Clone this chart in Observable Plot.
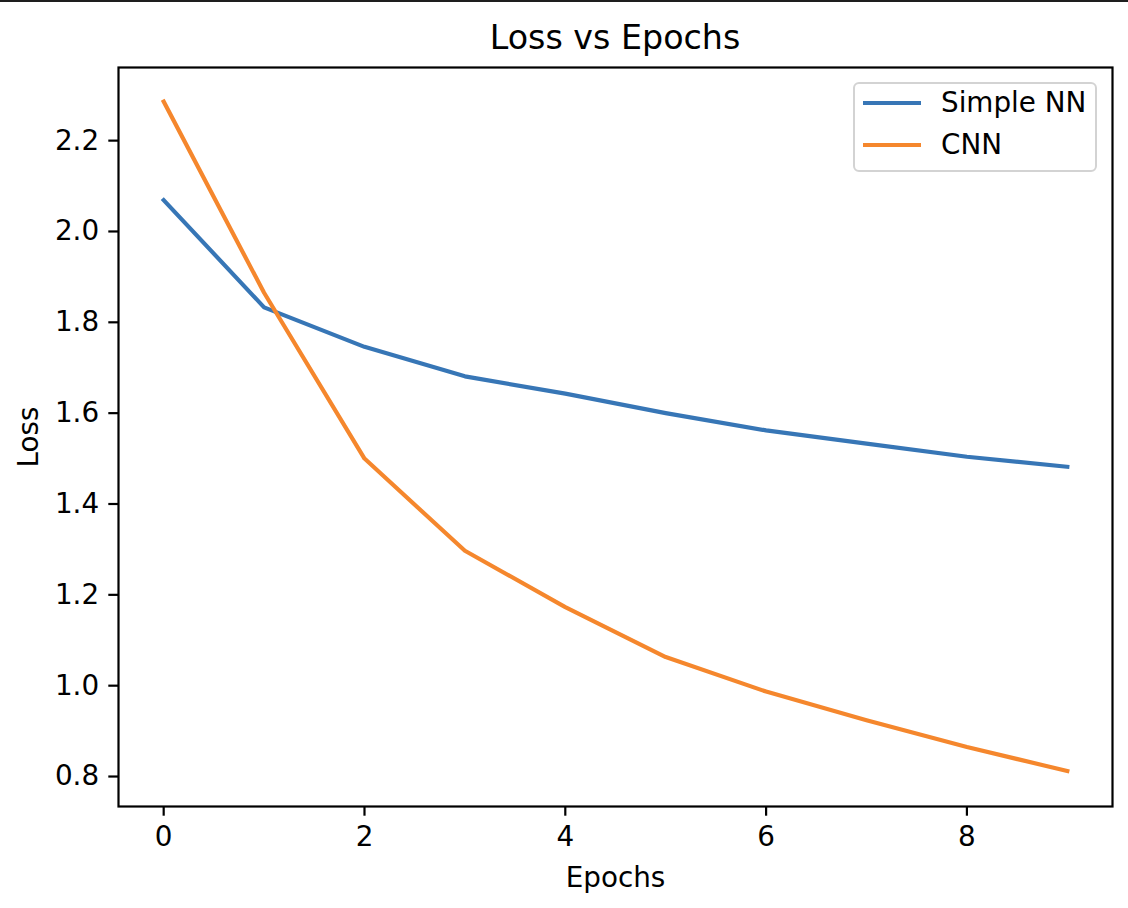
<!DOCTYPE html>
<html>
<head>
<meta charset="utf-8">
<script src="https://cdn.jsdelivr.net/npm/d3@7"></script>
<script src="https://cdn.jsdelivr.net/npm/@observablehq/plot@0.6"></script>
<style>
  html, body { margin: 0; padding: 0; background: #fff; }
  #wrap { position: relative; width: 1128px; height: 908px; overflow: hidden; background: #fff; font-family: "DejaVu Sans", sans-serif; }
  #topbar { position: absolute; left: 0; top: 0; width: 1128px; height: 2px; background: #1e1e1e; }
  #title { position: absolute; left: 0; width: 1230px; top: 18px; text-align: center; font-size: 33.3px; color: #000; line-height: 40px; }
  #chart { position: absolute; left: 0; top: 60px; }
  #legend { position: absolute; left: 853px; top: 82px; width: 240px; height: 86px; border: 2px solid #d3d3d3; border-radius: 6px; background: rgba(255,255,255,0.8); box-sizing: content-box; }
  .item { position: absolute; left: 8px; display: flex; align-items: center; font-size: 27.8px; color: #000; white-space: nowrap; }
  .sw { width: 58px; height: 4px; margin-right: 20px; }
</style>
</head>
<body>
<div id="wrap">
  <div id="topbar"></div>
  <div id="title">Loss vs Epochs</div>
  <div id="chart"></div>
  <div id="legend"></div>
</div>
<script>
const epochs = [0, 1, 2, 3, 4, 5, 6, 7, 8, 9];
const simpleNN = [2.069, 1.833, 1.746, 1.681, 1.643, 1.600, 1.562, 1.533, 1.504, 1.482];
const cnn = [2.286, 1.865, 1.500, 1.297, 1.173, 1.063, 0.987, 0.924, 0.865, 0.812];
const seriesNames = ["Simple NN", "CNN"];
const seriesColors = ["#3776b6", "#f5872d"];
const xTicks = [0, 2, 4, 6, 8];
const yTicks = [0.8, 1.0, 1.2, 1.4, 1.6, 1.8, 2.0, 2.2];

const data = [
  ...epochs.map((e, i) => ({epoch: e, loss: simpleNN[i], series: seriesNames[0]})),
  ...epochs.map((e, i) => ({epoch: e, loss: cnn[i], series: seriesNames[1]}))
];

const chart = Plot.plot({
  width: 1128,
  height: 848,
  marginTop: 7,
  marginBottom: 102,
  marginLeft: 118,
  marginRight: 16,
  style: {fontFamily: "DejaVu Sans", fontSize: "27.8px", color: "#000", background: "transparent", overflow: "visible"},
  x: {domain: [-0.45, 9.45]},
  y: {domain: [0.734, 2.361]},
  color: {domain: seriesNames, range: seriesColors},
  marks: [
    Plot.axisX({ticks: xTicks, tickFormat: d3.format("d"), tickSize: 9.7, tickPadding: 9.7, strokeWidth: 2.2,
      label: "Epochs", labelAnchor: "center", labelArrow: "none", labelOffset: 80, fontSize: 27.8}),
    Plot.axisY({ticks: yTicks, tickFormat: d3.format(".1f"), tickSize: 9.7, tickPadding: 9.7, strokeWidth: 2.2,
      label: "Loss", labelAnchor: "center", labelArrow: "none", labelOffset: 100, fontSize: 27.8}),
    Plot.line(data, {x: "epoch", y: "loss", stroke: "series", z: "series", strokeWidth: 4.17, strokeLinejoin: "round", strokeLinecap: "square"}),
    Plot.frame({stroke: "#000", strokeWidth: 2.2})
  ]
});
document.getElementById("chart").appendChild(chart);

const legend = document.getElementById("legend");
seriesNames.forEach((name, i) => {
  const item = document.createElement("div");
  item.className = "item";
  item.style.top = (i === 0 ? 2 : 44) + "px";
  const sw = document.createElement("div");
  sw.className = "sw";
  sw.style.background = seriesColors[i];
  const label = document.createElement("span");
  label.textContent = name;
  item.appendChild(sw);
  item.appendChild(label);
  legend.appendChild(item);
});
</script>
</body>
</html>
